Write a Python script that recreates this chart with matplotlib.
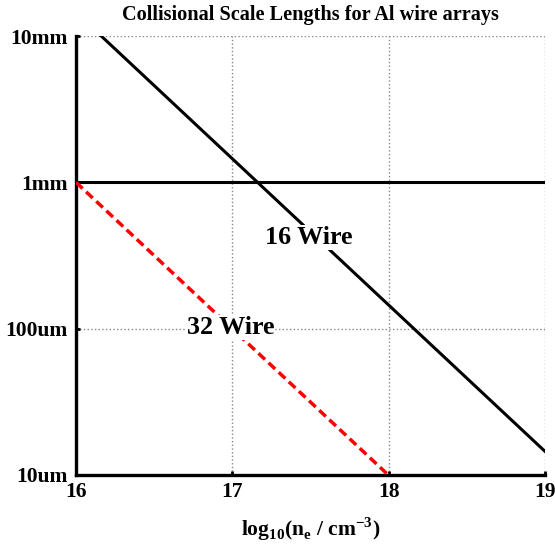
import matplotlib
matplotlib.use('Agg')
import matplotlib.pyplot as plt
from matplotlib.ticker import NullLocator

plt.rcParams['font.family'] = ['Liberation Serif', 'DejaVu Serif']
plt.rcParams['font.weight'] = 'bold'

# log10 electron density
x_range = [16, 19]
# 16 wire scale length (m), straight line in log space
l16 = [1.45e-2, 1.45e-5]
# 32 wire scale length (m)
x32 = [16, 18.02]
l32 = [1e-3, 9.5e-6]
# reference level, 1 mm
l_ref = [1e-3, 1e-3]

yticks = [1e-5, 1e-4, 1e-3, 1e-2]
ytick_labels = ['10um', '100um', '1mm', '10mm']
xticks = [16, 17, 18, 19]

fig = plt.figure(figsize=(5.55, 5.51), dpi=100)
ax = fig.add_axes([76 / 555, 1 - 475 / 551, 469 / 555, 439 / 551])

ax.plot(x_range, l16, color='black', lw=2.2, zorder=3)
ax.plot(x_range, l_ref, color='black', lw=2.2, zorder=3)
ax.plot(x32, l32, color='red', lw=2.5, ls=(0, (2.6, 1.4)), zorder=3)

ax.set_yscale('log')
ax.set_xlim(16, 19)
ax.set_ylim(1e-5, 1e-2)
ax.set_yticks(yticks)
ax.set_yticklabels(ytick_labels)
ax.set_xticks(xticks)
ax.yaxis.set_minor_locator(NullLocator())
ax.tick_params(direction='in', length=3, width=2, labelsize=15.5)
ax.tick_params(axis='y', pad=6)
ax.tick_params(axis='x', pad=5)

ax.grid(True, color='#888888', ls=':', lw=1)
for s in ['top', 'right']:
    ax.spines[s].set_visible(False)
for s in ['left', 'bottom']:
    ax.spines[s].set_linewidth(2.4)

box = dict(facecolor='white', edgecolor='none', pad=0.5)
ax.text(17.49, 4.2e-4, '16 Wire', fontsize=18.8, fontweight='bold',
        ha='center', va='center', bbox=box, zorder=4)
ax.text(16.99, 1.02e-4, '32 Wire', fontsize=18.8, fontweight='bold',
        ha='center', va='center', bbox=box, zorder=4)

ax.set_title('Collisional Scale Lengths for Al wire arrays', fontsize=14.6,
             fontweight='bold', pad=11.5)
ax.set_xlabel(r'log$_\mathregular{10}$(n$_\mathregular{e}$ / cm$^\mathregular{-3}$)',
              fontsize=15.5, fontweight='bold', labelpad=10)

fig.savefig('out.png', dpi=100)
